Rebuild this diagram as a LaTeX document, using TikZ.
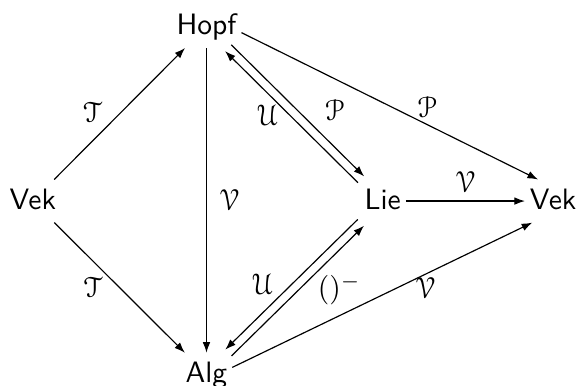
\documentclass[tikz,border=0pt]{standalone}
\usepackage[mathcal]{eucal}
\usepackage{tikz}
\usetikzlibrary{arrows.meta}

\begin{document}
\begin{tikzpicture}[
    obj/.style = {
        font=\sffamily, anchor=base, text height=1.5ex, text depth=0.25ex,
        inner xsep=1.5pt, inner ysep=3.33pt
    },
    lbl/.style = {
        inner sep=0pt
    },
    arrow/.style = {
        -{Latex[length=3.6pt, width=2.6pt]}
    }
]
\useasboundingbox (0,0) rectangle (6.91,4.59);

% ── Objects ──
\node[obj] (vekl) at (0.39, 2.10)  {Vek};
\node[obj] (hopf) at (2.46, 4.18)  {Hopf};
\node[obj] (alg)  at (2.46, 0.036) {Alg};
\node[obj] (lie)  at (4.56, 2.10)  {Lie};
\node[obj] (vekr) at (6.59, 2.10)  {Vek};

% ── Left square ──
\draw[arrow] (vekl) -- node[lbl, xshift=-9.2pt, yshift=0.7pt] {$\mathcal{T}$} (hopf);
\draw[arrow] (vekl) -- node[lbl, xshift=-9.1pt, yshift=0.3pt] {$\mathcal{T}$} (alg);
\draw[arrow] (hopf) -- node[lbl, xshift=7.8pt] {$\mathcal{V}$} (alg);

% ── Hopf <-> Lie ──
\draw[arrow, transform canvas={shift={(1.06pt,1.06pt)}}]   (hopf) -- node[lbl, xshift=12.5pt, yshift=0.3pt] {$\mathcal{P}$} (lie);
\draw[arrow, transform canvas={shift={(-1.06pt,-1.06pt)}}] (lie)  -- node[lbl, xshift=-8.1pt, yshift=0.7pt] {$\mathcal{U}$} (hopf);

% ── Alg <-> Lie ──
\draw[arrow, transform canvas={shift={(-1.06pt,1.06pt)}}] (lie) -- node[lbl, xshift=-9.8pt] {$\mathcal{U}$} (alg);
\draw[arrow, transform canvas={shift={(1.06pt,-1.06pt)}}] (alg) -- node[lbl, xshift=14.1pt, yshift=0.3pt] {$()^-$} (lie);

% ── Into Vek ──
\draw[arrow] (hopf.-10) -- node[lbl, xshift=12.7pt, yshift=-0.2pt] {$\mathcal{P}$} (vekr.125);
\draw[arrow] (lie)      -- node[lbl, yshift=6.4pt] {$\mathcal{V}$} (vekr);
\draw[arrow] (alg.15)   -- node[lbl, xshift=14.6pt, yshift=2.4pt] {$\mathcal{V}$} (vekr.226);

\end{tikzpicture}
\end{document}
